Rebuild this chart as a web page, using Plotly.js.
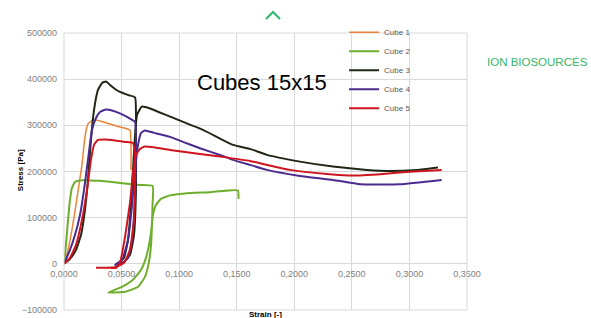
<!DOCTYPE html>
<html>
<head>
<meta charset="utf-8">
<script src="https://cdn.plot.ly/plotly-3.0.1.min.js"></script>
<style>html,body{margin:0;padding:0;background:#fff;}#chart{width:591px;height:318px;}</style>
</head>
<body>
<div id="chart"></div>
<script>
// Series names
const seriesNames = ["Cube 1", "Cube 2", "Cube 3", "Cube 4", "Cube 5"];

// Cube 1 (strain [-], stress [Pa])
const cube1Strain = [0, 0.0035, 0.0069, 0.0104, 0.0130, 0.0156, 0.0182, 0.0208, 0.0252, 0.0313, 0.0400, 0.0486, 0.0573, 0.0582, 0.0582];
const cube1Stress = [0, 30300, 73600, 127700, 171000, 214300, 274900, 303000, 311700, 309500, 303000, 296500, 290000, 246700, 203500];

// Cube 2
const cube2Strain = [0, 0.0017, 0.0035, 0.0052, 0.0069, 0.0096, 0.0139, 0.0226, 0.0313, 0.0486, 0.0660, 0.0770,
  0.0769, 0.0764, 0.0756, 0.0738, 0.0703, 0.0643, 0.0530, 0.0385,
  0.0504, 0.0599, 0.0669, 0.0712, 0.0738, 0.0756, 0.0773, 0.0799, 0.0842, 0.0921, 0.1051, 0.1268, 0.1510, 0.1515];
const cube2Stress = [0, 41100, 95200, 138500, 164500, 177500, 180700, 180700, 179700, 175300, 171000, 168800,
  127700, 84400, 41100, 4300, -28100, -49800, -60600, -62100,
  -49800, -34600, -13000, 13000, 41100, 69300, 106100, 127700, 140700, 148300, 152600, 155200, 159100, 140700];

// Cube 3
const cube3Strain = [0, 0.0052, 0.0104, 0.0148, 0.0182, 0.0208, 0.0234, 0.0261, 0.0295, 0.0330, 0.0365,
  0.0400, 0.0443, 0.0486, 0.0556, 0.0617,
  0.0625, 0.0625, 0.0608, 0.0573, 0.0521, 0.0469,
  0.0521, 0.0556, 0.0582, 0.0599, 0.0617, 0.0634, 0.0675, 0.0747, 0.0921, 0.1207, 0.1468, 0.1615, 0.1763, 0.2050, 0.2336, 0.2631, 0.2831, 0.3066, 0.3248];
const cube3Stress = [0, 10800, 30300, 62800, 116900, 181800, 268400, 333300, 376600, 391800, 395000,
  387400, 378800, 372300, 365800, 360400,
  290000, 160200, 62800, 19500, 4300, 0,
  13000, 52000, 127700, 203500, 279200, 322500, 340500, 336600, 318800, 290000, 257600, 249000, 236000, 221400, 210600, 203500, 201300, 203500, 208900];

// Cube 4
const cube4Strain = [0, 0.0052, 0.0096, 0.0139, 0.0174, 0.0208, 0.0243, 0.0278, 0.0313, 0.0365,
  0.0417, 0.0486, 0.0556, 0.0617,
  0.0625, 0.0617, 0.0591, 0.0556, 0.0504, 0.0443,
  0.0504, 0.0556, 0.0591, 0.0617, 0.0643, 0.0669, 0.0703, 0.0776, 0.0921, 0.1065, 0.1181, 0.1355, 0.1468, 0.1615, 0.1763, 0.2050, 0.2336, 0.2571, 0.2918, 0.3280];
const cube4Stress = [0, 30300, 62800, 106100, 160200, 225100, 290000, 316000, 329000, 334400,
  332300, 325800, 317100, 307400,
  268400, 138500, 51900, 13000, 0, -2200,
  8700, 51900, 127700, 203500, 257600, 283500, 289000, 284200, 274900, 261200, 250400, 235900, 225100, 214300, 203500, 190500, 181800, 172500, 172500, 181800];

// Cube 5
const cube5Strain = [0, 0.0052, 0.0104, 0.0156, 0.0200, 0.0234, 0.0261, 0.0295, 0.0356, 0.0443, 0.0530, 0.0599,
  0.0617, 0.0608, 0.0573, 0.0521, 0.0443, 0.0356, 0.0278,
  0.0400, 0.0452, 0.0486, 0.0530, 0.0573, 0.0602, 0.0625, 0.0660, 0.0703, 0.0790, 0.0921, 0.1181, 0.1355, 0.1615, 0.1763, 0.1963, 0.2284, 0.2510, 0.2771, 0.3005, 0.3280];
const cube5Stress = [0, 13000, 41100, 95200, 160200, 225100, 257600, 268400, 269500, 267300, 264000, 261900,
  225100, 95200, 30300, 2200, -7600, -8700, -8700,
  -8700, -8700, 2200, 58400, 132000, 203500, 235900, 248900, 254300, 252200, 246700, 238100, 232300, 222900, 214300, 203500, 194800, 191100, 194800, 199700, 203500];

const strains = [cube1Strain, cube2Strain, cube3Strain, cube4Strain, cube5Strain];
const stresses = [cube1Stress, cube2Stress, cube3Stress, cube4Stress, cube5Stress];
const colors = ["#EA8438", "#6DAE2C", "#1E2814", "#4B2B8E", "#D0141E"];
const widths = [1.5, 2, 2, 2, 2];

const traces = seriesNames.map((n, i) => ({
  type: "scatter", mode: "lines", name: n,
  x: strains[i], y: stresses[i],
  line: {color: colors[i], width: widths[i], shape: "spline", smoothing: 0.4}
}));

const grid = "#d9d9d9";
const layout = {
  width: 591, height: 318,
  margin: {l: 64, r: 124, t: 33, b: 8},
  paper_bgcolor: "#ffffff", plot_bgcolor: "#ffffff",
  font: {family: "Liberation Sans, Arial, sans-serif"},
  showlegend: true,
  legend: {x: 0.695, y: 1.055, xanchor: "left", yanchor: "top", bgcolor: "rgba(0,0,0,0)",
    font: {size: 8, color: "#595959"}, itemwidth: 30, tracegroupgap: 0},
  xaxis: {
    range: [0, 0.35], dtick: 0.05, tick0: 0, tickformat: ".4f",
    anchor: "free", position: 1/6,
    showgrid: true, gridcolor: grid, gridwidth: 1, zeroline: false,
    showline: false, ticks: "", ticklabelstandoff: 3,
    tickfont: {size: 9, color: "#808080"}
  },
  yaxis: {
    range: [-100000, 500000], dtick: 100000, tick0: 0, tickformat: "d",
    domain: [0, 1],
    showgrid: true, gridcolor: grid, gridwidth: 1, zeroline: true, zerolinecolor: grid, zerolinewidth: 1,
    showline: false, ticks: "", ticklabelstandoff: 6,
    tickfont: {size: 9, color: "#808080"}
  },
  separators: ", ",
  shapes: [
    {type: "rect", xref: "paper", yref: "paper", x0: 0, x1: 1, y0: 0, y1: 1, line: {color: grid, width: 1}},
    {type: "path", xref: "paper", yref: "paper", path: "M 0.5012 1.0505 L 0.5186 1.0758 L 0.536 1.0505",
     line: {color: "#2eb872", width: 2}}
  ],
  annotations: [
    {text: "Cubes 15x15", xref: "paper", yref: "paper", x: 0.491, y: 0.823, xanchor: "center", yanchor: "middle", showarrow: false,
     font: {size: 22, color: "#000000"}},
    {text: "ION BIOSOURCÉS", xref: "paper", yref: "paper", x: 1.174, y: 0.895, xanchor: "center", yanchor: "middle", showarrow: false,
     font: {size: 11.5, color: "#33b86a"}},
    {text: "Stress [Pa]", xref: "paper", yref: "paper", x: -0.109, y: 0.505, xanchor: "center", yanchor: "middle", showarrow: false, textangle: -90,
     font: {size: 8, color: "#000000", weight: "bold"}},
    {text: "Strain [-]", xref: "paper", yref: "paper", x: 0.499, y: -0.018, xanchor: "center", yanchor: "middle", showarrow: false,
     font: {size: 8, color: "#000000", weight: "bold"}}
  ]
};

Plotly.newPlot("chart", traces, layout, {displayModeBar: false, staticPlot: true});
</script>
</body>
</html>
